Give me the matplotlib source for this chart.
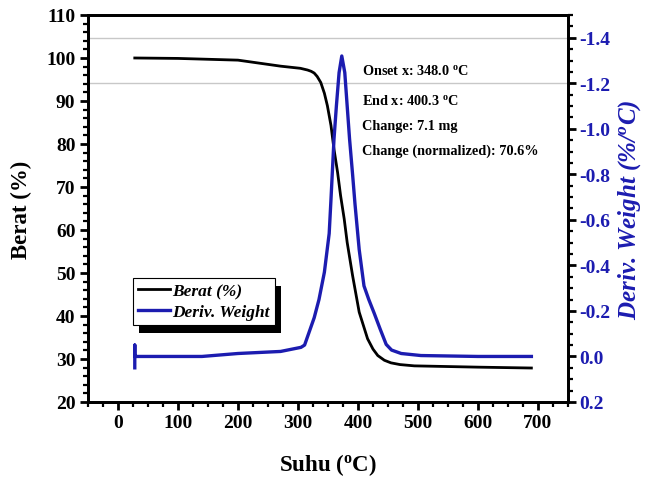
import matplotlib
matplotlib.use("Agg")
import matplotlib.pyplot as plt
from matplotlib.ticker import MultipleLocator, FormatStrFormatter
from matplotlib.patches import Rectangle

# TGA weight curve (Berat, %)
tg_temp = [28, 100, 200, 271, 304, 316, 322, 327, 332, 338, 344, 349, 355, 360,
           366, 371, 377, 382, 391, 402, 416, 425, 433, 444, 455, 470, 494, 600, 689]
tg_weight = [100.0, 99.9, 99.5, 98.1, 97.6, 97.2, 96.9, 96.5, 95.7, 94.3, 91.8,
             88.9, 84.3, 78.8, 73.4, 68.0, 62.6, 57.1, 49.4, 40.9, 34.7, 32.3,
             30.8, 29.7, 29.1, 28.7, 28.4, 28.1, 27.9]

# DTG derivative curve (%/°C)
dtg_temp = [28, 28, 28, 40, 140, 200, 271, 305, 311, 327, 335, 344, 352, 355,
            360, 364, 368.5, 373, 378, 382, 386, 391, 395, 402, 410, 418, 427,
            437, 447, 456, 472, 505, 600, 689]
dtg_value = [0.05, -0.05, 0.0, 0.0, 0.0, -0.013, -0.022, -0.04, -0.05, -0.17,
             -0.25, -0.37, -0.54, -0.69, -0.954, -1.10, -1.247, -1.32, -1.247,
             -1.10, -0.954, -0.80, -0.67, -0.47, -0.31, -0.25, -0.19, -0.12,
             -0.053, -0.028, -0.013, -0.004, 0.0, 0.0]

# horizontal analysis guide levels (weight axis)
guide_levels = [104.7, 94.2]

info_lines = [r"Onset x: 348.0 $^{\mathrm{o}}$C",
              r"End x: 400.3 $^{\mathrm{o}}$C",
              "Change: 7.1 mg",
              "Change (normalized): 70.6%"]

x_ticks = [0, 100, 200, 300, 400, 500, 600, 700]
left_ticks = [20, 30, 40, 50, 60, 70, 80, 90, 100, 110]
right_ticks = [0.2, 0.0, -0.2, -0.4, -0.6, -0.8, -1.0, -1.2, -1.4]

BLUE = "#1c1cb0"

plt.rcParams["font.family"] = ["Liberation Serif", "DejaVu Serif"]
plt.rcParams["font.weight"] = "bold"
plt.rcParams["axes.unicode_minus"] = False
plt.rcParams["mathtext.fontset"] = "custom"
plt.rcParams["mathtext.rm"] = "Liberation Serif:bold"
plt.rcParams["mathtext.it"] = "Liberation Serif:bold:italic"
plt.rcParams["mathtext.bf"] = "Liberation Serif:bold"

fig = plt.figure(figsize=(6.45, 4.89), dpi=100)
ax = fig.add_axes([0.1364, 0.1759, 0.7442, 0.7914])
ax2 = ax.twinx()

for lvl in guide_levels:
    ax.axhline(lvl, color="#c8c8c8", lw=1.0, zorder=1)

l1, = ax.plot(tg_temp, tg_weight, color="black", lw=2.0, zorder=3)
l2, = ax2.plot(dtg_temp, dtg_value, color=BLUE, lw=2.4, zorder=3)

ax.set_xlim(-50, 750)
ax.set_ylim(20, 110)
ax2.set_ylim(0.2, -1.5)

ax.set_xticks(x_ticks)
ax.xaxis.set_minor_locator(MultipleLocator(25))
ax.set_yticks(left_ticks)
ax.yaxis.set_minor_locator(MultipleLocator(2))
ax2.set_yticks(right_ticks)
ax2.yaxis.set_minor_locator(MultipleLocator(0.05))
ax2.yaxis.set_major_formatter(FormatStrFormatter("%.1f"))

ax.tick_params(axis="both", which="major", direction="out", length=6, width=2,
               labelsize=14, pad=3)
ax.tick_params(axis="both", which="minor", direction="out", length=3.5, width=1.6)
ax.tick_params(axis="x", which="both", top=False)
ax.tick_params(axis="y", which="both", right=False)
ax2.tick_params(axis="y", which="major", direction="out", length=6, width=2,
                labelsize=14, labelcolor=BLUE, pad=2)
ax2.tick_params(axis="y", which="minor", direction="out", length=3.5, width=1.6)

for a in (ax, ax2):
    for s in a.spines.values():
        s.set_linewidth(2.0)
        s.set_color("black")

ax.set_xlabel(r"Suhu ($^{\mathrm{o}}$C)", fontsize=16.5, fontweight="bold", labelpad=14)
ax.set_ylabel("Berat (%)", fontsize=16.5, fontweight="bold", labelpad=10)
ax2.set_ylabel(r"Deriv. Weight (%/$^{o}$C)", fontsize=18, fontweight="bold",
               fontstyle="italic", color=BLUE, labelpad=4)

info_y = [0.847, 0.770, 0.705, 0.641]
for txt, yy in zip(info_lines, info_y):
    ax2.text(0.571, yy, txt, transform=ax2.transAxes, fontsize=10.3,
             fontweight="bold", va="baseline", ha="left", zorder=6)

leg = ax2.legend([l1, l2], ["Berat (%)", "Deriv. Weight"], loc="upper left",
                 bbox_to_anchor=(0.094, 0.320), borderaxespad=0,
                 fancybox=False, framealpha=1, edgecolor="black",
                 handlelength=1.8, handletextpad=0.15, borderpad=0.3,
                 labelspacing=0.25,
                 prop={"family": "Liberation Serif", "weight": "bold",
                       "style": "italic", "size": 12.5})
leg.get_frame().set_linewidth(0.8)
leg.set_zorder(7)

# black drop shadow behind the legend box
fig.canvas.draw()
bb = leg.get_window_extent()
shadow = Rectangle((bb.x0 + 6, bb.y0 - 8), bb.width, bb.height,
                   transform=None, facecolor="black", edgecolor="none", zorder=6.5)
ax2.add_artist(shadow)

fig.savefig("out.png", dpi=100)
